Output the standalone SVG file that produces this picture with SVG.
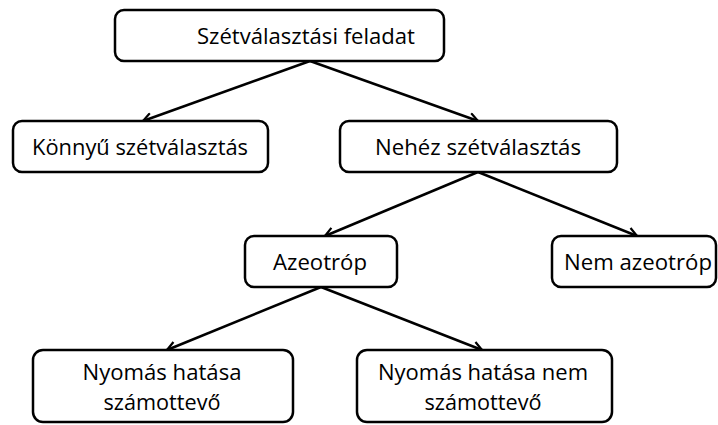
<svg xmlns="http://www.w3.org/2000/svg" width="718" height="425" viewBox="0 0 718 425">
  <style>
    .box { fill: #ffffff; stroke: #000000; stroke-width: 2.5; }
    .lbl { font-family: "Open Sans", "Liberation Sans", sans-serif; font-size: 22px; fill: #000000; text-anchor: middle; }
    .lbl2 { font-size: 21px; }
    .edge { fill: none; stroke: #000000; stroke-width: 2.5; marker-end: url(#arrow); }
  </style>
  <defs>
    <marker id="arrow" viewBox="0 0 12 12" refX="10" refY="6" markerWidth="12" markerHeight="12" markerUnits="userSpaceOnUse" orient="auto">
      <path d="M1,1 L10,6 L1,11" fill="none" stroke="#000000" stroke-width="2.2" stroke-linejoin="miter"/>
    </marker>
  </defs>

  <g id="connectors">
    <line class="edge" x1="310" y1="61" x2="143" y2="121"/>
    <line class="edge" x1="310" y1="61" x2="478" y2="121"/>
    <line class="edge" x1="478" y1="172" x2="325" y2="236"/>
    <line class="edge" x1="478" y1="172" x2="637" y2="236"/>
    <line class="edge" x1="321" y1="287" x2="167" y2="350"/>
    <line class="edge" x1="321" y1="287" x2="482" y2="350"/>
  </g>

  <g id="node-feladat">
    <rect class="box" x="115" y="10" width="329" height="51" rx="9"/>
    <text class="lbl" x="306" y="44" textLength="218" lengthAdjust="spacingAndGlyphs">Szétválasztási feladat</text>
  </g>
  <g id="node-konnyu">
    <rect class="box" x="13" y="121" width="255" height="51" rx="9"/>
    <text class="lbl" x="140" y="155" textLength="216" lengthAdjust="spacingAndGlyphs">Könnyű szétválasztás</text>
  </g>
  <g id="node-nehez">
    <rect class="box" x="340" y="121" width="277" height="51" rx="9"/>
    <text class="lbl" x="478" y="155" textLength="206" lengthAdjust="spacingAndGlyphs">Nehéz szétválasztás</text>
  </g>
  <g id="node-azeotrop">
    <rect class="box" x="245" y="236" width="152" height="51" rx="9"/>
    <text class="lbl" x="320" y="270" textLength="94" lengthAdjust="spacingAndGlyphs">Azeotróp</text>
  </g>
  <g id="node-nem-azeotrop">
    <rect class="box" x="552" y="236" width="164" height="51" rx="9"/>
    <text class="lbl" x="638" y="270" textLength="148" lengthAdjust="spacingAndGlyphs">Nem azeotróp</text>
  </g>
  <g id="node-szamottevo">
    <rect class="box" x="33" y="350" width="260" height="72" rx="10"/>
    <text class="lbl lbl2" x="162" y="380" textLength="159" lengthAdjust="spacingAndGlyphs">Nyomás hatása</text>
    <text class="lbl lbl2" x="162" y="410" textLength="117" lengthAdjust="spacingAndGlyphs">számottevő</text>
  </g>
  <g id="node-nem-szamottevo">
    <rect class="box" x="357" y="350" width="255" height="72" rx="10"/>
    <text class="lbl lbl2" x="483" y="380" textLength="210" lengthAdjust="spacingAndGlyphs">Nyomás hatása nem</text>
    <text class="lbl lbl2" x="483" y="410" textLength="117" lengthAdjust="spacingAndGlyphs">számottevő</text>
  </g>
</svg>
